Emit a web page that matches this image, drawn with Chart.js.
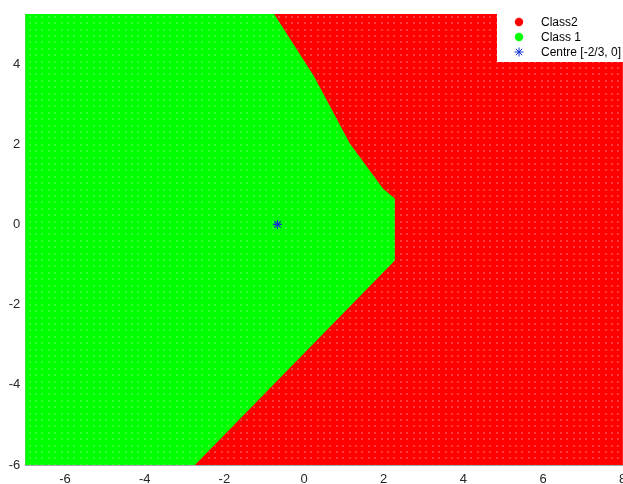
<!DOCTYPE html>
<html>
<head>
<meta charset="utf-8">
<script src="https://cdn.jsdelivr.net/npm/chart.js@4/dist/chart.umd.min.js"></script>
<style>
  html, body { margin: 0; padding: 0; background: #fff; overflow: hidden; }
  #wrap { width: 680px; height: 484px; }
</style>
</head>
<body>
<div id="wrap"><canvas id="c" width="680" height="484"></canvas></div>
<script>
// Axis limits and tick labels
const xLimits = [-7, 8];
const yLimits = [-6, 5.25];
const xTickValues = [-6, -4, -2, 0, 2, 4, 6, 8];
const yTickValues = [-6, -4, -2, 0, 2, 4];

// Decision boundary between the two classes, from top edge to bottom edge
const boundaryX = [-0.75, 0.25, 1.15, 1.98, 2.28, 2.28, -2.74];
const boundaryY = [5.25, 3.70, 2.02, 0.90, 0.65, -0.90, -6];

// Class centre
const centreX = [-2 / 3];
const centreY = [0];

const seriesLabels = ['Class2', 'Class 1', 'Centre [-2/3, 0]'];

const RED = '#ff0000';
const GREEN = '#00ff00';
const BLUE = '#1030d0';

// Dotted lattice texture of the filled marker grid
function latticePattern(base, dot) {
  const tile = document.createElement('canvas');
  tile.width = 32; tile.height = 32;
  const g = tile.getContext('2d');
  g.fillStyle = base;
  g.fillRect(0, 0, 32, 32);
  g.fillStyle = dot;
  const offs = [3, 9, 16, 22, 29];
  for (const ox of offs) for (const oy of offs) g.fillRect(ox, oy, 2, 2);
  return g.createPattern(tile, 'repeat');
}

const boundary = boundaryX.map((x, i) => ({ x, y: boundaryY[i] }));
const class2Region = boundary.concat([
  { x: xLimits[1], y: yLimits[0] },
  { x: xLimits[1], y: yLimits[1] }
]);
const class1Region = boundary.concat([
  { x: xLimits[0], y: yLimits[0] },
  { x: xLimits[0], y: yLimits[1] }
]);

// Legend box drawn inside the top-right corner of the axes
const cornerLegend = {
  id: 'cornerLegend',
  afterDraw(chart) {
    const ctx = chart.ctx;
    ctx.save();
    ctx.fillStyle = '#ffffff';
    ctx.fillRect(497, 0, chart.width - 497, 62);
    const rows = [22, 37, 52];
    const mx = 519, tx = 541;
    ctx.font = '12px "Liberation Sans", Arial, Helvetica, sans-serif';
    ctx.textBaseline = 'middle';
    ctx.textAlign = 'left';
    chart.data.datasets.forEach((ds, i) => {
      const y = rows[i];
      if (ds.legendMarker === 'star') {
        ctx.strokeStyle = BLUE;
        ctx.lineWidth = 1;
        const r = 4.5;
        const d = r * 0.7071;
        ctx.beginPath();
        ctx.moveTo(mx - r, y); ctx.lineTo(mx + r, y);
        ctx.moveTo(mx, y - r); ctx.lineTo(mx, y + r);
        ctx.moveTo(mx - d, y - d); ctx.lineTo(mx + d, y + d);
        ctx.moveTo(mx - d, y + d); ctx.lineTo(mx + d, y - d);
        ctx.stroke();
      } else {
        ctx.fillStyle = ds.legendColor;
        ctx.beginPath();
        ctx.arc(mx, y, 4.2, 0, Math.PI * 2);
        ctx.fill();
      }
      ctx.fillStyle = '#000000';
      ctx.fillText(ds.label, tx, y + 0.5);
    });
    ctx.restore();
  }
};

const ctx = document.getElementById('c').getContext('2d');
new Chart(ctx, {
  type: 'scatter',
  data: {
    datasets: [
      {
        type: 'line',
        label: seriesLabels[0],
        legendColor: RED,
        data: class2Region,
        showLine: true,
        fill: 'shape',
        backgroundColor: latticePattern(RED, 'rgba(255,255,255,0.24)'),
        borderColor: RED,
        borderWidth: 1.5,
        pointRadius: 0,
        tension: 0,
        order: 3
      },
      {
        type: 'line',
        label: seriesLabels[1],
        legendColor: GREEN,
        data: class1Region,
        showLine: true,
        fill: 'shape',
        backgroundColor: latticePattern(GREEN, 'rgba(255,255,255,0.2)'),
        borderWidth: 0,
        borderColor: 'rgba(0,0,0,0)',
        pointRadius: 0,
        tension: 0,
        order: 2
      },
      {
        label: seriesLabels[2],
        legendMarker: 'star',
        data: centreX.map((x, i) => ({ x, y: centreY[i] })),
        pointStyle: 'star',
        pointRadius: 4.5,
        borderColor: BLUE,
        backgroundColor: BLUE,
        borderWidth: 1.2,
        order: 1
      }
    ]
  },
  options: {
    responsive: false,
    devicePixelRatio: 1,
    animation: false,
    layout: { padding: { left: 0, top: 14, right: 680 - 622.7, bottom: 0 } },
    plugins: { legend: { display: false }, tooltip: { enabled: false } },
    scales: {
      x: {
        type: 'linear',
        min: xLimits[0],
        max: xLimits[1],
        afterBuildTicks: s => { s.ticks = xTickValues.map(v => ({ value: v })); },
        afterFit: s => { s.height = 19; },
        grid: { display: false, drawTicks: false },
        border: { display: true, color: '#a8a8a8', width: 1, dash: [2, 2] },
        ticks: {
          padding: 7,
          maxRotation: 0,
          autoSkip: false,
          color: '#262626',
          font: { family: '"Liberation Sans", Arial, Helvetica, sans-serif', size: 13 }
        }
      },
      y: {
        type: 'linear',
        min: yLimits[0],
        max: yLimits[1],
        afterBuildTicks: s => { s.ticks = yTickValues.map(v => ({ value: v })); },
        afterFit: s => { s.width = 25.2; },
        grid: { display: false, drawTicks: false },
        border: { display: true, color: '#a8a8a8', width: 1, dash: [2, 2] },
        ticks: {
          padding: 5,
          autoSkip: false,
          color: '#262626',
          font: { family: '"Liberation Sans", Arial, Helvetica, sans-serif', size: 13 }
        }
      }
    }
  },
  plugins: [cornerLegend]
});
</script>
</body>
</html>
